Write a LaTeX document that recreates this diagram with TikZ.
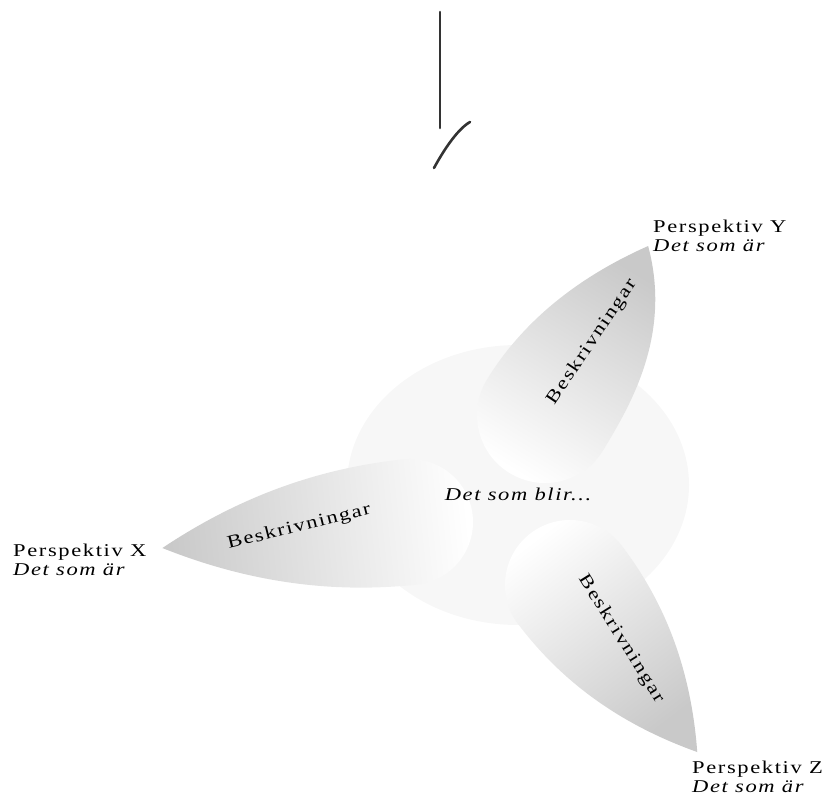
\documentclass[tikz,border=0pt]{standalone}
\usepackage{fontspec}
\setmainfont{Liberation Serif}[LetterSpace=9, FakeStretch=1.25]

\begin{document}
\begin{tikzpicture}[x=1pt, y=1pt,
    leaf/.style={top color=black!21, bottom color=white},
    lbl/.style={inner sep=0pt, font=\fontsize{18}{19}\selectfont},
    persp/.style={lbl, anchor=base west},
    is/.style={persp, font=\fontsize{18}{19}\selectfont\itshape},
    stroke/.style={draw=black!80, line width=2.6pt, line cap=round}]
    \useasboundingbox (0,0) rectangle (832,796);

    % Marks at the top
    \draw[stroke] (440,784) -- (440,668);
    \draw[stroke] (434,628) .. controls (441,641) and (456,666) .. (470,674);

    % Faint centre
    \fill[black!3] (518,311) ellipse (171 and 140);

    % Leaf Y
    \begin{scope}[shift={(545,381)}, rotate=58.6]
        \shade[leaf, shading angle=-31.4] (198,0) .. controls (123,52) and (55,68) .. (0,68)
            arc (90:270:68) .. controls (55,-68) and (135,-66) .. cycle;
    \end{scope}
    % Leaf X
    \begin{scope}[shift={(410,274)}, rotate=186]
        \shade[leaf, shading angle=96] (249,0) .. controls (154,50) and (70,63) .. (0,63)
            arc (90:270:63) .. controls (70,-63) and (154,-50) .. cycle;
    \end{scope}
    % Leaf Z
    \begin{scope}[shift={(570,211)}, rotate=-52.7]
        \shade[leaf, shading angle=-142.7] (210,0) .. controls (130,52) and (59,65) .. (0,65)
            arc (90:270:65) .. controls (59,-65) and (130,-52) .. cycle;
    \end{scope}

    % Leaf texts
    \node[lbl, rotate=56] (beskrY) at (592,454) {Beskrivningar};
    \node[lbl, rotate=14] (beskrX) at (299,269) {Beskrivningar};
    \node[lbl, rotate=-58] (beskrZ) at (621,157) {Beskrivningar};
    \node[lbl, font=\fontsize{18}{19}\selectfont\itshape, anchor=base] (blir) at (518,296) {Det som blir...};

    % Perspectives
    \node[persp] (perspY) at (653,563) {Perspektiv Y};
    \node[is] (isY) at ([yshift=-19pt]perspY.base west) {Det som är};
    \node[persp] (perspX) at (13,240) {Perspektiv X};
    \node[is] (isX) at ([yshift=-19pt]perspX.base west) {Det som är};
    \node[persp] (perspZ) at (692,23) {Perspektiv Z};
    \node[is] (isZ) at ([yshift=-19pt]perspZ.base west) {Det som är};
\end{tikzpicture}
\end{document}
